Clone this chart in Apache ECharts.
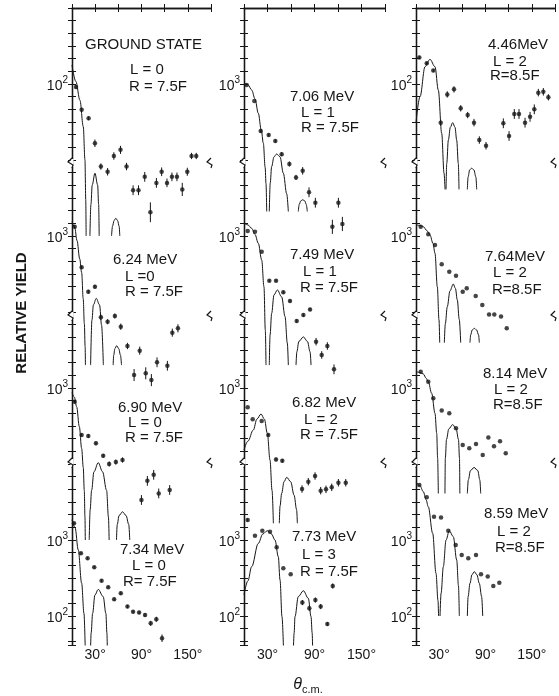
<!DOCTYPE html>
<html><head><meta charset="utf-8">
<script src="https://cdn.jsdelivr.net/npm/echarts@6.0.0/dist/echarts.min.js"></script>
<style>html,body{margin:0;padding:0;background:#fff}#c{width:559px;height:696px}</style>
</head><body><div id="c"></div>
<script>
// ================= DATA =================
const xTickLabels = [30, 90, 150];

// Column 1
const gsDeg   = [5.2, 12.5, 21.5, 29.7, 37.4, 46.1, 54.2, 62.8, 70.6, 79.1, 86.1, 94.2, 101.5, 109.3, 116.1, 123, 129.4, 135.9, 142.8, 149.3, 154.8, 160.9];
const gsYield = [91, 46, 35.4, 16.6, 8.2, 7.0, 11.3, 13.6, 8.2, 4.0, 4.0, 6.0, 2.05, 5.0, 7.0, 5.0, 6.0, 6.0, 4.1, 7.0, 11.3, 11.3];
const gsErr   = [0.06, 0.06, 0.06, 0.12, 0.1, 0.12, 0.12, 0.13, 0.12, 0.16, 0.16, 0.16, 0.35, 0.16, 0.14, 0.14, 0.14, 0.14, 0.22, 0.13, 0.1, 0.1];
const gsFit1 = [[0,178],[5,108],[10.3,61],[14.6,27.5],[16.8,10],[17.8,3],[18.3,1]];
const gsFit2 = [[23.2,1],[24.5,2.6],[26.2,4.7],[29.7,6.7],[33.2,4.7],[34.5,2.6],[35.2,1]];
const gsFit3 = [[51.2,1],[52.5,1.35],[54.5,1.6],[56.8,1.71],[59,1.6],[61,1.35],[61.9,1]];

const e624Deg   = [3.5, 12.5, 21.1, 29.7, 37.4, 46.1, 55.5, 63.2, 71.8, 80.4, 87.7, 95.5, 102.8, 110.1, 123.5, 129.9, 137.2];
const e624Yield = [1325, 387, 185, 215, 85, 74.5, 88.5, 64, 35.7, 14.8, 31, 15.6, 12.7, 21.8, 19.6, 53.5, 61];
const e624Err   = [0.05, 0.05, 0.06, 0.06, 0.08, 0.08, 0.08, 0.1, 0.1, 0.2, 0.13, 0.2, 0.2, 0.16, 0.16, 0.13, 0.13];
const e624Fit1 = [[0,1550],[3.5,1300],[6.5,870],[10,500],[12.5,330],[14.5,150],[16,70],[17,35],[17.4,20]];
const e624Fit2 = [[24.1,20],[25.8,78],[27.7,124],[31.4,151],[35.7,124],[38.3,67],[40.6,20]];
const e624Fit3 = [[53.3,20],[54,27],[55.5,33],[57.8,36],[60.5,33],[62.8,27],[64.1,20]];

const e690Deg   = [3.5, 12.5, 21.1, 31, 40.4, 48.1, 56.8, 65.4, 89.9, 97.6, 105.8, 112.3, 126.5];
const e690Yield = [661, 241, 233, 187, 128, 100, 106, 113, 33.6, 60, 72, 41, 45.5];
const e690Err   = [0.05, 0.05, 0.06, 0.06, 0.06, 0.08, 0.08, 0.08, 0.16, 0.16, 0.16, 0.16, 0.16];
const e690Fit1 = [[0,870],[3,760],[6,568],[9.5,310],[12.5,160],[14.6,90],[15.9,45],[16.8,20],[17.2,10]];
const e690Fit2 = [[22.3,10],[23.5,25],[25.4,45],[28.4,79],[34,104],[39.6,79],[44.8,45],[47.2,20],[48.1,10]];
const e690Fit3 = [[57.6,10],[58.6,16],[61,21],[65.4,23.5],[70,21],[73.5,16],[74.8,10]];

const e734Deg   = [2.6, 11.6, 20.2, 28.8, 38.3, 46.9, 54.6, 63.2, 71.8, 79.1, 86.9, 94.6, 101.9, 109.2, 116.6];
const e734Yield = [1660, 668, 574, 437, 291, 239, 166, 199, 133, 114, 111, 103, 80, 90.5, 51];
const e734Err   = [0.04, 0.04, 0.04, 0.04, 0.04, 0.04, 0.05, 0.05, 0.05, 0.05, 0.05, 0.06, 0.08, 0.08, 0.12];
const e734Fit1 = [[0,1850],[4,1450],[8.1,740],[12.5,270],[15.5,108],[17.2,35]];
const e734Fit2 = [[24,35],[24.8,60],[26.7,108],[29.7,189],[34,224],[40.4,180],[43.9,108],[45.2,60],[45.8,35]];

// Column 2
const e706Deg   = [3.4, 13.2, 21.3, 31.5, 40, 48.1, 57.9, 66.4, 74.9, 83, 91.1, 112.8, 120.5, 125.6];
const e706Yield = [970, 597, 241, 213, 178, 119, 88.6, 59, 72, 37.6, 27.4, 13.2, 27.4, 14.4];
const e706Err   = [0, 0, 0.05, 0.05, 0.05, 0.06, 0.08, 0.08, 0.12, 0.16, 0.16, 0.24, 0.16, 0.24];
const e706Fit1 = [[0,1020],[5,980],[9.8,835],[14,640],[18.3,411],[22,250],[24.7,166],[27,80],[28.1,49],[29,21]];
const e706Fit2 = [[32.3,21],[33.5,50],[35.3,82],[38.3,110],[41.7,120],[46,110],[50.2,67],[54.5,36],[56.6,21]];
const e706Fit3 = [[69.3,21],[70.5,26],[72.5,29],[75,30],[77.5,29],[79.5,26],[80.8,21]];

const e749Deg   = [4.7, 14, 22.6, 32.3, 40.9, 50.2, 58.7, 67.3, 75.8, 84.3, 92, 99.2, 106.4, 114.9];
const e749Yield = [1164, 1140, 622, 258, 258, 182, 140, 76, 91, 108, 40.7, 27.2, 35.7, 17.6];
const e749Err   = [0, 0, 0, 0.04, 0.04, 0.05, 0.05, 0.05, 0.05, 0.05, 0.12, 0.12, 0.12, 0.16];
const e749Fit1 = [[0,1470],[5,1400],[9.8,1260],[14,1050],[18.3,800],[22.6,483],[25.5,215],[27.2,58],[28.1,20]];
const e749Fit2 = [[32.3,20],[33.3,50],[35.3,96],[38.3,168],[42.6,195],[48.1,158],[52.4,87],[55.3,39],[56.6,20]];
const e749Fit3 = [[66.4,20],[67.5,30],[70,41],[75.8,47],[81,41],[84.3,30],[85.6,20]];

const e682Deg   = [4.7, 11.1, 22.6, 31, 40.9, 48.9, 74.1, 82.1, 90.7, 97.9, 104.7, 112, 120.5, 129.9];
const e682Yield = [557, 387, 368, 241, 115, 110, 46.8, 58.5, 69.5, 44.6, 46.4, 49.3, 56.7, 56.7];
const e682Err   = [0, 0, 0, 0.04, 0.06, 0.06, 0.12, 0.12, 0.12, 0.12, 0.12, 0.12, 0.12, 0.12];
const e682Fit1 = [[0,153],[5,200],[11.9,280],[16.5,390],[21.7,455],[26,390],[29.8,254],[33.2,113],[35.8,45],[37.5,16.6]];
const e682Fit2 = [[45.1,16.6],[46,28],[48.1,41],[51.1,58.5],[54.5,66.8],[59.6,58.5],[63.9,39],[67.2,25],[68.1,16.6]];

const e773Deg   = [4.7, 14, 23.4, 33.2, 41.7, 50.2, 59.6, 74.5, 83.4, 91.1, 97.9, 106.4, 113.3];
const e773Yield = [1833, 1140, 1325, 1287, 801, 425, 354, 150, 126, 162, 133, 78.5, 248];
const e773Err   = [0.05, 0, 0, 0, 0, 0, 0, 0.08, 0.08, 0.08, 0.08, 0.06, 0.08];
const e773Fit1 = [[0,190],[5,290],[9.8,446],[18.3,904],[24,1200],[29.8,1325],[35,1200],[39.6,1000],[43.8,603],[46,298],[48.5,98],[50.5,35]];
const e773Fit2 = [[63,35],[64,60],[65.1,98],[69.3,180],[75.8,215],[82.1,171],[85.6,98],[87,60],[87.7,35]];

// Column 3
const e446Deg   = [4.3, 13.9, 22.4, 32, 40.5, 49.2, 57.9, 66.9, 75.1, 82, 90.7, 113.1, 120.5, 127.3, 133.4, 141.2, 147.7, 153.2, 158.4, 164.9, 171.4];
const e446Yield = [224, 187, 150, 31, 73, 85, 47.9, 39, 31, 18.3, 15.4, 30.4, 20.7, 40.3, 40.3, 31, 37, 46.4, 77, 79, 66.8];
const e446Err   = [0.05, 0.05, 0.05, 0.1, 0.1, 0.1, 0.1, 0.1, 0.12, 0.12, 0.12, 0.16, 0.16, 0.16, 0.16, 0.16, 0.16, 0.16, 0.12, 0.12, 0.1];
const e446Fit1 = [[0,31],[5.2,68],[11.7,169],[18.1,211],[24.6,169],[28.9,83],[33.3,22.4],[36.3,6.7],[37.6,4.1]];
const e446Fit2 = [[38.9,4.1],[39.8,9],[41.9,18.3],[44.5,27],[47.5,31],[50.5,27],[52.7,18.3],[54.8,9],[55.7,4.1]];
const e446Fit3 = [[66.5,4.1],[67.5,6],[69.5,7.4],[72.1,7.8],[75,7.4],[77.5,6],[78.6,4.1]];

const e764Deg   = [6.1, 15.9, 24.6, 33.3, 43.1, 51.8, 60.5, 65.7, 77.3, 85.9, 94.6, 101.4, 110.1, 117.5];
const e764Yield = [1325, 1052, 762, 425, 339, 301, 185, 205, 162, 124, 93, 93, 87, 61];
const e764Err   = [0, 0, 0, 0, 0, 0, 0, 0, 0, 0, 0, 0, 0, 0];
const e764Fit1 = [[0,1400],[5,1380],[9.5,1325],[14,1180],[18.1,1030],[22,800],[24.6,592],[27.6,215],[29.8,78.5],[30.7,39.5]];
const e764Fit2 = [[36.7,39.5],[38,70],[40.5,117],[44,190],[48.3,233],[51,205],[53.5,144],[56,80],[57.9,39.5]];
const e764Fit3 = [[69.9,39.5],[70.8,50],[72.8,58],[75.5,61],[78.5,58],[81,50],[82,39.5]];

const e814Deg   = [6.1, 15.9, 22.4, 33.3, 43.1, 51.8, 60.5, 69, 77.7, 86.4, 93.7, 101, 108.8, 116.2];
const e814Yield = [1640, 1210, 731, 504, 464, 295, 178, 161, 183, 131, 224, 171, 199, 138];
const e814Err   = [0, 0, 0, 0, 0, 0, 0, 0, 0, 0, 0, 0, 0, 0];
const e814Fit1 = [[0,1640],[5,1600],[9.5,1530],[13,1350],[15.9,1210],[20.3,851],[24.6,464],[26.8,254],[28,120],[28.9,41]];
const e814Fit2 = [[37.5,41],[38,120],[39.5,210],[42.5,290],[47.5,330],[52,290],[55,210],[56.3,120],[56.8,41]];
const e814Fit3 = [[66.5,41],[67.8,62],[70.5,82],[75.2,90],[80,82],[82.6,62],[83.8,41]];

const e859Deg   = [4.3, 13.9, 23.3, 32.4, 41.8, 51.4, 59.2, 67.7, 77.7, 84.2, 92.9, 100.1, 107.9];
const e859Yield = [5300, 3650, 2030, 1970, 1325, 860, 635, 574, 635, 354, 330, 248, 274];
const e859Err   = [0, 0, 0, 0, 0, 0, 0, 0, 0, 0, 0, 0, 0];
const e859Fit1 = [[0,5800],[5,5200],[9.5,4320],[13,3400],[15.9,2740],[21.6,1225],[25.9,364],[28.5,160],[29.2,100]];
const e859Fit2 = [[31.1,100],[32.5,200],[35.4,446],[38.9,1000],[43.1,1325],[48.3,1107],[52.7,546],[55,250],[56.1,100]];
const e859Fit3 = [[66.5,100],[67.5,180],[69.9,269],[72.5,350],[75.5,383],[78.8,350],[82,269],[85,180],[86.4,100]];

// Panel captions
const gsText   = ['GROUND STATE', 'L = 0', 'R = 7.5F'];
const e624Text = ['6.24 MeV', 'L =0', 'R = 7.5F'];
const e690Text = ['6.90 MeV', 'L = 0', 'R = 7.5F'];
const e734Text = ['7.34 MeV', 'L = 0', 'R= 7.5F'];
const e706Text = ['7.06 MeV', 'L = 1', 'R = 7.5F'];
const e749Text = ['7.49 MeV', 'L = 1', 'R = 7.5F'];
const e682Text = ['6.82 MeV', 'L = 2', 'R = 7.5F'];
const e773Text = ['7.73 MeV', 'L = 3', 'R = 7.5F'];
const e446Text = ['4.46MeV', 'L = 2', 'R=8.5F'];
const e764Text = ['7.64MeV', 'L = 2', 'R=8.5F'];
const e814Text = ['8.14 MeV', 'L = 2', 'R=8.5F'];
const e859Text = ['8.59 MeV', 'L = 2', 'R=8.5F'];

// decade exponent labelled in each panel (panel order: column by column, top to bottom)
const panelExp = [2, 3, 3, 3,  3, 3, 3, 3,  2, 3, 3, 3];

// ================= LAYOUT =================
const FONT = '"Liberation Sans", Arial, sans-serif';
const INK = '#161616';
const colLeft = [72, 244, 416];
const colRight = [211, 385, 555];
const boxTop = 8, boxBottom = 645;
const pxPerDecade = 76;
const spanDec = (boxBottom - boxTop) / pxPerDecade;
const tickUnits = (boxBottom - boxTop) / (pxPerDecade / 6);

const panels = [
  {c:0, r:0, deg:gsDeg,   y:gsYield,   err:gsErr,   fit:[gsFit1, gsFit2, gsFit3],       text:gsText,
   pos:[[85,45],[130,70],[129,87]]},
  {c:0, r:1, deg:e624Deg, y:e624Yield, err:e624Err, fit:[e624Fit1, e624Fit2, e624Fit3], text:e624Text,
   pos:[[113,260],[125,277],[125,292]]},
  {c:0, r:2, deg:e690Deg, y:e690Yield, err:e690Err, fit:[e690Fit1, e690Fit2, e690Fit3], text:e690Text,
   pos:[[118,408],[128,423],[125,438]]},
  {c:0, r:3, deg:e734Deg, y:e734Yield, err:e734Err, fit:[e734Fit1, e734Fit2],           text:e734Text,
   pos:[[120,550],[132,566],[123,582]]},
  {c:1, r:0, deg:e706Deg, y:e706Yield, err:e706Err, fit:[e706Fit1, e706Fit2, e706Fit3], text:e706Text,
   pos:[[290,97],[301,113],[301,128]]},
  {c:1, r:1, deg:e749Deg, y:e749Yield, err:e749Err, fit:[e749Fit1, e749Fit2, e749Fit3], text:e749Text,
   pos:[[290,255],[303,272],[300,288]]},
  {c:1, r:2, deg:e682Deg, y:e682Yield, err:e682Err, fit:[e682Fit1, e682Fit2],           text:e682Text,
   pos:[[292,403],[304,420],[300,435]]},
  {c:1, r:3, deg:e773Deg, y:e773Yield, err:e773Err, fit:[e773Fit1, e773Fit2],           text:e773Text,
   pos:[[292,537],[302,555],[300,572]]},
  {c:2, r:0, deg:e446Deg, y:e446Yield, err:e446Err, fit:[e446Fit1, e446Fit2, e446Fit3], text:e446Text,
   pos:[[488,45],[493,62],[490,76]]},
  {c:2, r:1, deg:e764Deg, y:e764Yield, err:e764Err, fit:[e764Fit1, e764Fit2, e764Fit3], text:e764Text,
   pos:[[485,257],[493,273],[492,290]]},
  {c:2, r:2, deg:e814Deg, y:e814Yield, err:e814Err, fit:[e814Fit1, e814Fit2, e814Fit3], text:e814Text,
   pos:[[483,374],[494,390],[493,405]]},
  {c:2, r:3, deg:e859Deg, y:e859Yield, err:e859Err, fit:[e859Fit1, e859Fit2, e859Fit3], text:e859Text,
   pos:[[484,514],[497,532],[495,548]]}
];

const grid = [], xAxis = [], yAxis = [], series = [], graphic = [];
const axLine = {show: true, lineStyle: {color: INK, width: 1.3}};
const tickIn = {show: true, inside: true, length: 4, lineStyle: {color: INK, width: 1}};

for (let c = 0; c < 3; c++) {
  grid.push({left: colLeft[c], top: boxTop, width: colRight[c] - colLeft[c], height: boxBottom - boxTop,
             containLabel: false, outerBoundsMode: 'none'});
  xAxis.push({type: 'value', gridIndex: c, position: 'bottom', min: 0, max: 180, interval: 30,
    axisLine: axLine, axisTick: tickIn, splitLine: {show: false},
    axisLabel: {margin: 3, fontSize: 14, fontFamily: FONT, color: INK,
      formatter: v => xTickLabels.includes(v) ? v + '°' : ''}});
  xAxis.push({type: 'value', gridIndex: c, position: 'top', min: 0, max: 180, interval: 30,
    axisLine: axLine, axisTick: tickIn, splitLine: {show: false}, axisLabel: {show: false}});
  yAxis.push({type: 'value', gridIndex: c, position: 'left', inverse: true, min: 0, max: tickUnits, interval: 1,
    axisLine: axLine, axisTick: tickIn, splitLine: {show: false}, axisLabel: {show: false}});
  yAxis.push({type: 'value', gridIndex: c, position: 'right', inverse: true, min: 0, max: tickUnits, interval: 1,
    axisLine: axLine, axisTick: tickIn, splitLine: {show: false}, axisLabel: {show: false}});
  panels.filter(p => p.c === c).forEach(p => {
    const idx = panels.indexOf(p);
    const E = panelExp[idx];
    const topExp = E + 1 + 2 * p.r;
    const shown = p.r === 3 ? [E, E - 1] : [E];
    p.yIndex = yAxis.length;
    yAxis.push({type: 'log', gridIndex: c, position: 'left', offset: 0,
      min: Math.pow(10, topExp - spanDec), max: Math.pow(10, topExp),
      axisLine: {show: false}, axisTick: {show: false}, splitLine: {show: false}, minorTick: {show: false},
      axisLabel: {margin: 4, color: INK, fontFamily: FONT,
        formatter: v => {
          const l = Math.log10(v), e = Math.round(l);
          if (Math.abs(l - e) > 1e-6 || !shown.includes(e)) return '';
          return '{b|10}{s|' + e + '}';
        },
        rich: {
          b: {fontSize: 14, lineHeight: 18, verticalAlign: 'bottom', fontFamily: FONT, color: INK},
          s: {fontSize: 10, lineHeight: 10, verticalAlign: 'top', fontFamily: FONT, color: INK}
        }}});
  });
}

panels.forEach(p => {
  const xi = 2 * p.c, yi = p.yIndex;
  p.fit.forEach(lobe => series.push({type: 'line', xAxisIndex: xi, yAxisIndex: yi, data: lobe,
    symbol: 'none', smooth: 0.35, smoothMonotone: 'x', silent: true, animation: false, clip: true,
    lineStyle: {color: INK, width: 1}}));
  const bars = [];
  p.deg.forEach((d, k) => { if (p.err[k] > 0) bars.push([d, p.y[k] / (1 + p.err[k]), p.y[k] * (1 + p.err[k])]); });
  series.push({type: 'custom', xAxisIndex: xi, yAxisIndex: yi, data: bars, silent: true, animation: false,
    dimensions: ['x', 'lo', 'hi'], encode: {x: 0, y: [1, 2]},
    renderItem: (params, api) => {
      const a = api.coord([api.value(0), api.value(1)]);
      const b = api.coord([api.value(0), api.value(2)]);
      return {type: 'line', shape: {x1: a[0], y1: a[1], x2: b[0], y2: b[1]}, style: {stroke: INK, lineWidth: 1}};
    }});
  series.push({type: 'scatter', xAxisIndex: xi, yAxisIndex: yi, data: p.deg.map((d, k) => [d, p.y[k]]),
    symbol: 'circle', symbolSize: 4.5, silent: true, animation: false, itemStyle: {color: INK}});
  p.text.forEach((t, k) => graphic.push({type: 'text', x: p.pos[k][0], y: p.pos[k][1], silent: true,
    style: {text: t, fill: INK, font: '15px ' + FONT, align: 'left', verticalAlign: 'middle'}}));
});

// axis break marks
[163, 316, 463].forEach(yb => {
  for (let c = 0; c < 3; c++) {
    [colLeft[c], colRight[c]].forEach(xb => {
      graphic.push({type: 'rect', silent: true, z: 100, shape: {x: xb - 1.5, y: yb - 4, width: 3, height: 8}, style: {fill: '#fff'}});
      graphic.push({type: 'polyline', silent: true, z: 101,
        shape: {points: [[xb, yb - 5], [xb - 4, yb - 1], [xb + 1, yb + 2], [xb, yb + 5]]},
        style: {stroke: INK, lineWidth: 1.2, fill: null}});
    });
  }
});

graphic.push({type: 'text', x: 22, y: 313, rotation: Math.PI / 2, silent: true,
  style: {text: 'RELATIVE YIELD', fill: INK, font: 'bold 15px ' + FONT, align: 'center', verticalAlign: 'middle'}});
graphic.push({type: 'text', x: 308, y: 686, silent: true,
  style: {text: '{t|θ}{s|c.m.}', align: 'center', verticalAlign: 'middle',
    rich: {t: {fontSize: 16, fontStyle: 'italic', fontFamily: FONT, fill: INK, lineHeight: 18, verticalAlign: 'top'},
           s: {fontSize: 11, fontFamily: FONT, fill: INK, lineHeight: 18, verticalAlign: 'bottom'}}}});

const chart = echarts.init(document.getElementById('c'), null, {renderer: 'canvas'});
chart.setOption({animation: false, backgroundColor: '#fff', grid, xAxis, yAxis, series, graphic});
</script>
</body></html>
